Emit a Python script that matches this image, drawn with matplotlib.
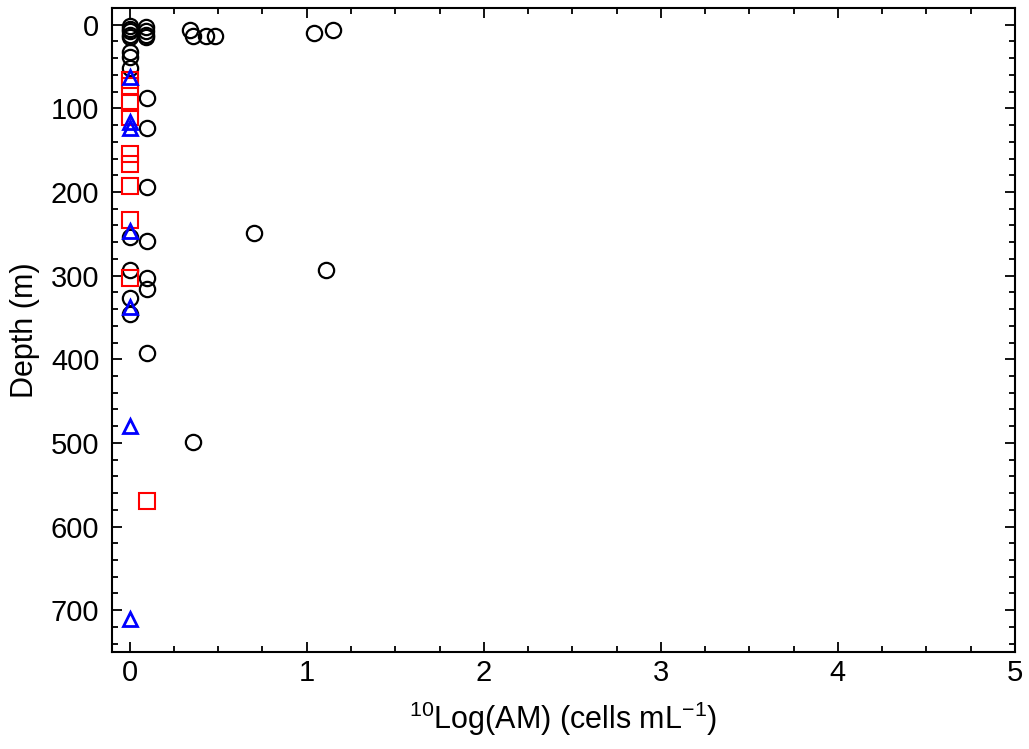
import matplotlib
matplotlib.use("Agg")
import matplotlib.pyplot as plt
from matplotlib.ticker import MultipleLocator

plt.rcParams['font.family'] = ['Liberation Sans', 'DejaVu Sans']
plt.rcParams['mathtext.default'] = 'regular'

# AM counts (log10) versus sampling depth, three sample groups
circ_x = [0, 0, 0, 0, 0, 0, 0, 0, 0, 0, 0, 0,
          0.09, 0.09, 0.09, 0.09, 0.1, 0.1, 0.1, 0.1, 0.1, 0.1, 0.1,
          0.34, 0.36, 0.43, 0.48, 1.04, 1.15, 0.7, 1.11, 0.36]
circ_depth = [2, 5, 8, 12, 15, 32, 38, 52, 254, 293, 327, 346,
              3, 8, 12, 15, 87, 123, 194, 259, 303, 316, 392,
              6, 14, 14, 14, 10, 6, 249, 293, 499]

sq_x = [0, 0, 0, 0, 0, 0, 0, 0, 0, 0.1]
sq_depth = [66, 73, 94, 110, 154, 166, 193, 233, 303, 570]

tri_x = [0, 0, 0, 0, 0, 0, 0]
tri_depth = [63, 116, 123, 247, 337, 480, 710]

fig = plt.figure(figsize=(10.29, 7.49), dpi=100)
ax = fig.add_axes([0.1088, 0.1295, 0.8776, 0.8598])

ax.plot(circ_x, circ_depth, linestyle='none', marker='o', markersize=11,
        markerfacecolor='none', markeredgecolor='black', markeredgewidth=1.6)
ax.plot(sq_x, sq_depth, linestyle='none', marker='s', markersize=11,
        markerfacecolor='none', markeredgecolor='red', markeredgewidth=1.5)
ax.plot(tri_x, tri_depth, linestyle='none', marker='^', markersize=10,
        markerfacecolor='none', markeredgecolor='blue', markeredgewidth=2)

ax.set_xlim(-0.1, 5)
ax.set_ylim(750, -20)
ax.xaxis.set_major_locator(MultipleLocator(1))
ax.xaxis.set_minor_locator(MultipleLocator(0.25))
ax.yaxis.set_major_locator(MultipleLocator(100))
ax.yaxis.set_minor_locator(MultipleLocator(20))

ax.tick_params(which='both', direction='in', top=True, right=True,
               labelsize=21, width=1.3)
ax.tick_params(which='major', length=7)
ax.tick_params(axis='y', which='major', pad=9)
ax.tick_params(axis='x', which='major', pad=5)
ax.tick_params(which='minor', length=4)
for s in ax.spines.values():
    s.set_linewidth(1.5)

ax.set_xlabel(r'$^{10}$Log(AM) (cells mL$^{-1}$)', fontsize=22, labelpad=9)
ax.set_ylabel('Depth (m)', fontsize=22, labelpad=8)

fig.savefig('out.png', dpi=100)
